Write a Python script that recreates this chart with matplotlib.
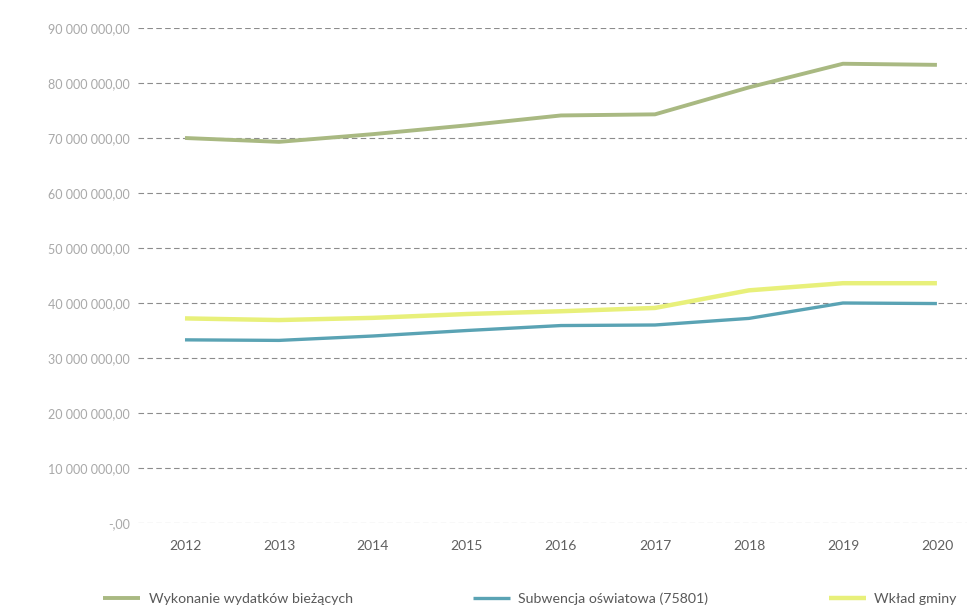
import matplotlib
matplotlib.use("Agg")
import matplotlib.pyplot as plt
from matplotlib.ticker import FuncFormatter

years = ["2012", "2013", "2014", "2015", "2016", "2017", "2018", "2019", "2020"]
wykonanie = [70.0e6, 69.3e6, 70.7e6, 72.3e6, 74.1e6, 74.3e6, 79.2e6, 83.5e6, 83.3e6]
subwencja = [33.3e6, 33.2e6, 34.0e6, 35.0e6, 35.9e6, 36.0e6, 37.2e6, 40.0e6, 39.9e6]
wklad = [37.2e6, 36.9e6, 37.3e6, 38.0e6, 38.5e6, 39.1e6, 42.3e6, 43.6e6, 43.6e6]
series_names = ["Wykonanie wydatków bieżących", "Subwencja oświatowa (75801)", "Wkład gminy"]
yticks = [i * 10e6 for i in range(10)]

plt.rcParams['font.family'] = ['Lato', 'DejaVu Sans']

fig = plt.figure(figsize=(9.67, 6.16), dpi=100)
ax = fig.add_axes([138/967, 1 - 523/616, 1 - 138/967, (523 - 28)/616])

x = list(range(len(years)))
ax.plot(x, wykonanie, color="#a9b982", lw=2.8, solid_capstyle="butt", label=series_names[0], zorder=3)
ax.plot(x, subwencja, color="#5aa3b4", lw=2.4, solid_capstyle="butt", label=series_names[1], zorder=3)
ax.plot(x, wklad, color="#e8f07a", lw=3.2, solid_capstyle="butt", label=series_names[2], zorder=3)

ax.set_xlim(-0.5, 8.32)
ax.set_ylim(0, 90e6)
ax.set_xticks(x)
ax.set_xticklabels(years)
ax.set_yticks(yticks)

def fmt(v, pos):
    if v == 0:
        return "-,00"
    s = f"{int(round(v)):,}".replace(",", " ")
    return s + ",00"

ax.yaxis.set_major_formatter(FuncFormatter(fmt))
ax.grid(axis="y", color="#8c8c8c", lw=0.8, linestyle=(0, (5, 3)), zorder=1)
ax.grid(axis="x", visible=False)
for sp in ax.spines.values():
    sp.set_visible(False)
ax.tick_params(axis="both", length=0)
ax.tick_params(axis="y", labelsize=9, labelcolor="#a8a8a8", pad=6)
ax.tick_params(axis="x", labelsize=10, labelcolor="#606060", pad=12)

leg = fig.legend(loc="lower center", bbox_to_anchor=(0.548, -0.003), ncol=3, frameon=False,
                 fontsize=10.2, handlelength=2.6, columnspacing=8.5, handletextpad=0.6)
for t in leg.get_texts():
    t.set_color("#595959")

fig.savefig("out.png", dpi=100, facecolor="white")
